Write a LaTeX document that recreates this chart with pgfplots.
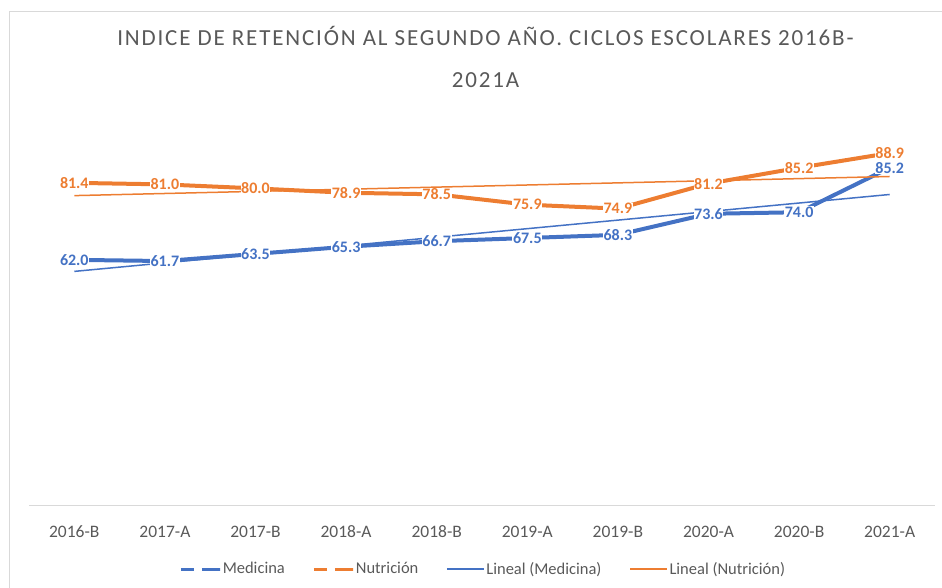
\documentclass[border=0pt]{standalone}
\usepackage{pgfplots}
\usepackage{pgfplotstable}
\pgfplotsset{compat=1.18}
\usepackage{fontspec}
\setmainfont{Carlito}
\newfontfamily\titlefont[LetterSpace=8]{Carlito}
\definecolor{mblue}{HTML}{4472C4}
\definecolor{morange}{HTML}{ED7D31}
\definecolor{tgray}{HTML}{595959}
\definecolor{lgray}{HTML}{D9D9D9}

\pgfplotstableread{
x med nut
0 62.0 81.4
1 61.7 81.0
2 63.5 80.0
3 65.3 78.9
4 66.7 78.5
5 67.5 75.9
6 68.3 74.9
7 73.6 81.2
8 74.0 85.2
9 85.2 88.9
}\data

\pgfplotsset{
  vlabels/.style={
    nodes near coords={\pgfmathprintnumber[fixed,fixed zerofill,precision=1,assume math mode=true]{\pgfplotspointmeta}},
    point meta=y,
    every node near coord/.append style={anchor=center, fill=white, inner sep=0.6pt,
      text=#1, font=\fontsize{16}{19}\bfseries\selectfont},
  }
}

\begin{document}
\begin{tikzpicture}
\path[use as bounding box] (0pt,0pt) rectangle (942pt,588pt);
\draw[lgray, line width=0.8pt] (9pt,-2pt) -- (9pt,577pt) -- (944pt,577pt);
\begin{axis}[
  at={(29pt,82pt)}, anchor=south west,
  scale only axis, width=906pt, height=397pt,
  xmin=-0.5, xmax=9.5, ymin=0, ymax=100,
  axis x line=bottom, axis y line=none,
  x axis line style={-, draw=lgray, line width=1pt},
  xtick={0,...,9},
  xticklabels={2016-B,2017-A,2017-B,2018-A,2018-B,2019-A,2019-B,2020-A,2020-B,2021-A},
  major tick length=0pt,
  xticklabel style={anchor=center, yshift=-26pt, text=tgray, font=\fontsize{17.5}{20}\selectfont},
  ytick=\empty,
  clip=false,
  legend columns=4,
  legend style={at={(axis description cs:0.501,-0.1587)}, anchor=center, draw=none, fill=none,
    font=\fontsize{16.5}{19}\selectfont, text=tgray,
    /tikz/every odd column/.append style={column sep=0pt},
    /tikz/every even column/.append style={column sep=26pt},
    nodes={inner sep=1.5pt}},
]
\addplot[mblue, line width=4pt, line join=round, vlabels=mblue,
  legend image code/.code={\draw[mblue, line width=3pt, dash pattern=on 13pt off 8pt on 18pt off 0pt] (0pt,0pt) -- (39pt,0pt);}]
  table[x=x, y=med] {\data};
\addlegendentry{Medicina}
\addplot[morange, line width=4pt, line join=round, vlabels=morange,
  legend image code/.code={\draw[morange, line width=3pt, dash pattern=on 13pt off 8pt on 18pt off 0pt] (0pt,0pt) -- (39pt,0pt);}]
  table[x=x, y=nut] {\data};
\addlegendentry{Nutrición}
\addplot[mblue, line width=1.5pt,
  legend image code/.code={\draw[mblue, line width=2pt] (0pt,0pt) -- (37pt,0pt);}]
  table[x=x, y={create col/linear regression={y=med}}] {\data};
\addlegendentry{Lineal (Medicina)}
\addplot[morange, line width=1.5pt,
  legend image code/.code={\draw[morange, line width=2pt] (0pt,0pt) -- (37pt,0pt);}]
  table[x=x, y={create col/linear regression={y=nut}}] {\data};
\addlegendentry{Lineal (Nutrición)}
\end{axis}
\node[anchor=base, text=tgray, font=\titlefont\fontsize{23}{27}\selectfont] at (485.5pt,542pt) {INDICE DE RETENCIÓN AL SEGUNDO AÑO. CICLOS ESCOLARES 2016B-};
\node[anchor=base, text=tgray, font=\titlefont\fontsize{23}{27}\selectfont] at (485.5pt,500pt) {2021A};
\end{tikzpicture}
\end{document}
